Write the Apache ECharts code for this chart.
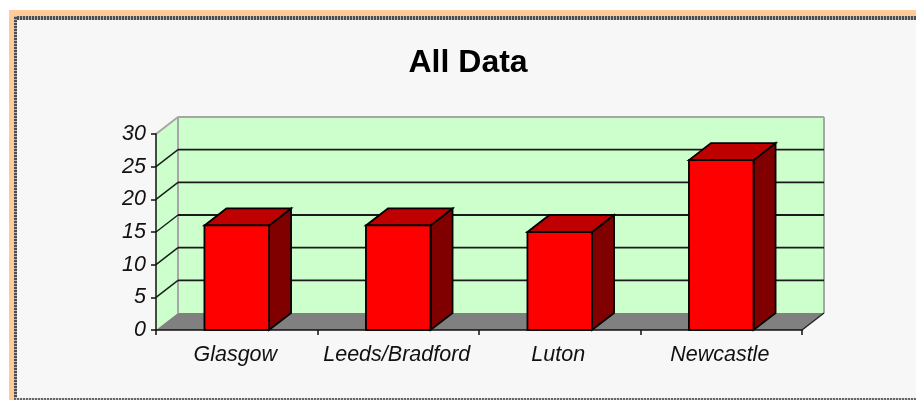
<!DOCTYPE html>
<html>
<head>
<meta charset="utf-8">
<style>
html,body{margin:0;padding:0;width:916px;height:400px;background:#fff;overflow:hidden}
#orange{position:absolute;left:9px;top:10px;width:907px;height:390px;background:#FFCC99}
#panel{position:absolute;left:14px;top:16px;width:902px;height:384px;background:#F7F7F7}
#dotsTop{position:absolute;left:14px;top:16px;width:902px;height:4px;background:repeating-linear-gradient(90deg,#4d4d4d 0 2px,#b5b5b5 2px 3px)}
#dotsLeft{position:absolute;left:14px;top:16px;width:3px;height:384px;background:repeating-linear-gradient(0deg,#4d4d4d 0 2px,#b5b5b5 2px 3px)}
#dotsBottom{position:absolute;left:14px;top:398px;width:902px;height:2px;background:repeating-linear-gradient(90deg,#666 0 2px,#d0d0d0 2px 3px)}
#chart{position:absolute;left:0;top:0;width:916px;height:400px}
</style>
<script src="https://cdn.jsdelivr.net/npm/echarts@6/dist/echarts.min.js"></script>
</head>
<body>
<div id="orange"></div>
<div id="panel"></div>
<div id="dotsTop"></div>
<div id="dotsLeft"></div>
<div id="dotsBottom"></div>
<div id="chart"></div>
<script>
const titleText = 'All Data';
const categories = ['Glasgow', 'Leeds/Bradford', 'Luton', 'Newcastle'];
const values = [16, 16, 15, 26];
const yTicks = [0, 5, 10, 15, 20, 25, 30];
const depthX = 22, depthY = 17;
const barBand = 0.4;

const chart = echarts.init(document.getElementById('chart'), null, {renderer: 'canvas'});

function poly(points, fill, stroke, lw) {
  return {type: 'polygon', shape: {points}, style: {fill, stroke: stroke || 'none', lineWidth: lw || 0}};
}
function seg(x1, y1, x2, y2, stroke, lw) {
  return {type: 'line', shape: {x1, y1, x2, y2}, style: {stroke, lineWidth: lw, fill: 'none'}};
}

chart.setOption({
  animation: false,
  backgroundColor: 'transparent',
  title: {
    text: titleText, left: 403.5, top: 42,
    textStyle: {fontFamily: '"Liberation Sans", Arial', fontWeight: 'bold', fontSize: 32, color: '#000'}
  },
  grid: {left: 156, right: 114, top: 134, bottom: 70, containLabel: false},
  xAxis: {
    type: 'category', data: categories, z: 5,
    axisLine: {show: true, lineStyle: {color: '#111', width: 1.5}},
    axisTick: {show: true, alignWithLabel: false, interval: 0, length: 5, lineStyle: {color: '#111', width: 1.5}},
    axisLabel: {show: true, interval: 0, hideOverlap: false, margin: 14, padding: [0, 3, 0, 0], fontFamily: '"Liberation Sans", Arial', fontStyle: 'italic', fontSize: 21.5, color: '#111'},
    splitLine: {show: false}
  },
  yAxis: {
    type: 'value', min: 0, max: 30, interval: 5, z: 5,
    axisLine: {show: true, lineStyle: {color: '#111', width: 1.5}},
    axisTick: {show: true, length: 5, lineStyle: {color: '#111', width: 1.5}},
    axisLabel: {margin: 10, padding: [3, 0, 0, 0], fontFamily: '"Liberation Sans", Arial', fontStyle: 'italic', fontSize: 21.5, color: '#111'},
    splitLine: {show: false}
  },
  series: [
    {
      type: 'custom', silent: true, z: 1, data: [0], clip: false,
      coordinateSystem: 'cartesian2d',
      encode: {x: -1, y: -1},
      renderItem(params, api) {
        const c = params.coordSys;
        const l = c.x, r = c.x + c.width, t = c.y, b = c.y + c.height;
        const dx = depthX, dy = depthY, wall = '#CCFFCC', edge = '#A6A6A6';
        const children = [
          poly([[l + dx, t - dy], [r + dx, t - dy], [r + dx, b - dy], [l + dx, b - dy]], wall),
          poly([[l, t], [l + dx, t - dy], [l + dx, b - dy], [l, b]], wall),
          poly([[l, b], [l + dx, b - dy], [r + dx, b - dy], [r, b]], '#808080'),
          seg(l + dx, t - dy, r + dx, t - dy, edge, 2),
          seg(r + dx, t - dy, r + dx, b - dy, edge, 2),
          seg(l + dx, t - dy, l + dx, b - dy, edge, 2),
          seg(l, t, l + dx, t - dy, edge, 2)
        ];
        yTicks.forEach(v => {
          const y = api.coord([0, v])[1];
          if (v > 0 && v < 30) {
            children.push(seg(l + dx, y - dy, r + dx, y - dy, '#1a1a1a', 1.8));
            children.push(seg(l, y, l + dx, y - dy, '#1a1a1a', 1.4));
          }
        });
        children.push(seg(r, b, r + dx, b - dy, '#222', 1.4));
        return {type: 'group', children};
      }
    },
    {
      type: 'custom', silent: true, z: 3, clip: false,
      coordinateSystem: 'cartesian2d',
      data: values.map((v, i) => [i, v]),
      encode: {x: 0, y: 1},
      renderItem(params, api) {
        const top = api.coord([api.value(0), api.value(1)]);
        const base = api.coord([api.value(0), 0]);
        const w = api.size([1, 0])[0] * barBand;
        const x0 = top[0] - w / 2, x1 = top[0] + w / 2, yt = top[1], yb = base[1];
        const dx = depthX, dy = depthY, lw = 1.8, k = '#000';
        return {type: 'group', children: [
          poly([[x1, yt], [x1 + dx, yt - dy], [x1 + dx, yb - dy], [x1, yb]], '#800000', k, lw),
          poly([[x0, yt], [x0 + dx, yt - dy], [x1 + dx, yt - dy], [x1, yt]], '#BF0000', k, lw),
          poly([[x0, yt], [x1, yt], [x1, yb], [x0, yb]], '#FF0000', k, lw)
        ]};
      }
    }
  ]
});
</script>
</body>
</html>
